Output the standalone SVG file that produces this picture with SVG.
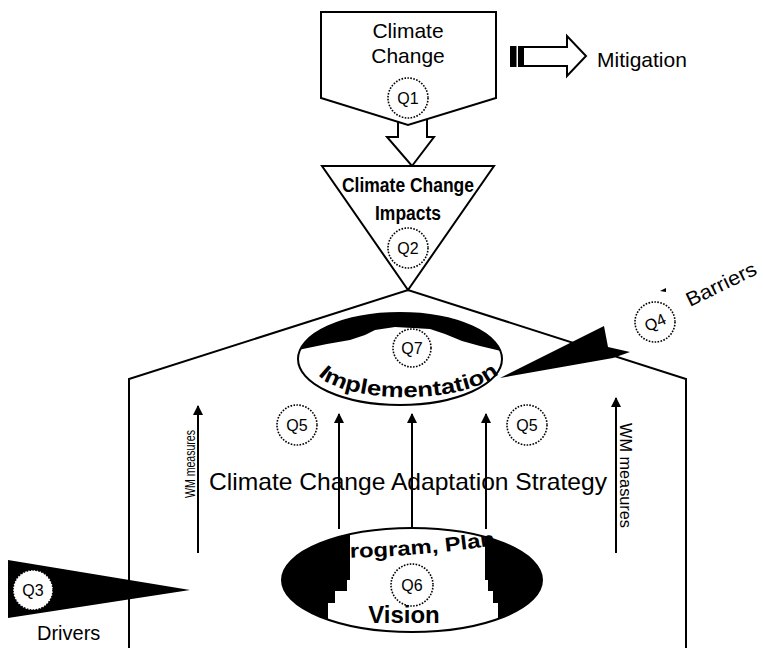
<svg xmlns="http://www.w3.org/2000/svg" width="763" height="648" viewBox="0 0 763 648">
<style>
.ln{fill:none;stroke:#000;stroke-width:2}
.sh{fill:#fff;stroke:#000;stroke-width:2;stroke-linejoin:miter}
.q{fill:#fff;stroke:#000;stroke-width:1.6;stroke-dasharray:1.6 1.4}
.t{font-family:"Liberation Sans",Arial,sans-serif;fill:#000}
.qt{font-family:"Liberation Sans",Arial,sans-serif;font-size:16px;text-anchor:middle;fill:#000}
.b{font-weight:bold}
</style>
<defs>
<marker id="ah" viewBox="0 0 10 10" refX="9" refY="5" markerWidth="10" markerHeight="10" markerUnits="userSpaceOnUse" orient="auto">
<path d="M0,0 L10,5 L0,10 Z" fill="#000"/>
</marker>
<clipPath id="impClip"><ellipse cx="400" cy="359" rx="102" ry="46"/></clipPath>
<clipPath id="visClip"><ellipse cx="412" cy="580" rx="130" ry="52"/></clipPath>
<path id="impPath" d="M318,375 C345,404 470,407 504,369"/>
<path id="progPath" d="M334,558 Q420,557 496,545"/>
</defs>

<g id="connectors">
<polyline class="ln" points="129,648 129,379 408,290 686,379 686,648"/>
<line class="ln" x1="198" y1="553" x2="198" y2="406" marker-end="url(#ah)"/>
<line class="ln" x1="616" y1="553" x2="616" y2="398" marker-end="url(#ah)"/>
<line class="ln" x1="339" y1="529" x2="339" y2="414" marker-end="url(#ah)"/>
<line class="ln" x1="412" y1="527" x2="412" y2="414" marker-end="url(#ah)"/>
<line class="ln" x1="486" y1="529" x2="486" y2="414" marker-end="url(#ah)"/>
<polygon class="sh" points="398,110 427,110 427,137 434,137 412,166 387,137 398,137"/>
</g>

<g id="climate-change">
<polygon class="sh" points="321,12 496,12 496,98 408,125 321,98"/>
<text class="t" x="408" y="38" font-size="21" text-anchor="middle">Climate</text>
<text class="t" x="408" y="63" font-size="21" text-anchor="middle">Change</text>
<circle class="q" cx="408" cy="98" r="20"/>
<text class="qt" x="408" y="104">Q1</text>
</g>

<g id="mitigation">
<polygon class="sh" points="523,47 567,47 567,36 586,56 567,76 567,66 523,66"/>
<rect x="510" y="46" width="6.5" height="21" fill="#000"/>
<rect x="518" y="46" width="5.5" height="21" fill="#000"/>
<text class="t" x="597" y="67" font-size="21">Mitigation</text>
</g>

<g id="impacts">
<polygon class="sh" points="322,166 494,166 408,290"/>
<text class="t b" x="408" y="192" font-size="20" text-anchor="middle" textLength="132" lengthAdjust="spacingAndGlyphs">Climate Change</text>
<text class="t b" x="408" y="220" font-size="20" text-anchor="middle" textLength="66" lengthAdjust="spacingAndGlyphs">Impacts</text>
<circle class="q" cx="408" cy="248" r="20"/>
<text class="qt" x="408" y="254">Q2</text>
</g>

<g id="implementation">
<ellipse cx="400" cy="359" rx="102" ry="46" fill="#fff"/>
<polygon clip-path="url(#impClip)" fill="#000" points="290,300 290,350 298,350 327,344 350,340 365,335 375,330 395,327 430,329 445,334 462,341 480,346 510,353 510,300"/>
<ellipse cx="400" cy="359" rx="102" ry="46" class="ln"/>
<circle class="q" cx="412" cy="348" r="19"/>
<text class="qt" x="412" y="354">Q7</text>
<text class="t b" font-size="21"><textPath href="#impPath" textLength="190" lengthAdjust="spacingAndGlyphs">Implementation</textPath></text>
</g>

<g id="barriers">
<polygon fill="#000" points="500,378 604,326 608,347 630,352 613,358"/>
<polygon fill="#000" points="660,291 666,288 666,292"/>
<circle class="q" cx="655" cy="322" r="20"/>
<text class="qt" x="655" y="328" transform="rotate(-25 655 322)">Q4</text>
<text class="t" x="690" y="307" font-size="20" textLength="76" lengthAdjust="spacingAndGlyphs" transform="rotate(-26 690 307)">Barriers</text>
</g>

<g id="q5-left">
<circle class="q" cx="297" cy="425" r="20"/>
<text class="qt" x="297" y="431">Q5</text>
</g>
<g id="q5-right">
<circle class="q" cx="527" cy="425" r="20"/>
<text class="qt" x="527" y="431">Q5</text>
</g>

<g id="wm-left">
<text class="t" font-size="14" transform="translate(195,498) rotate(-90)" textLength="68" lengthAdjust="spacingAndGlyphs">WM measures</text>
</g>
<g id="wm-right">
<text class="t" font-size="16" transform="translate(620,423) rotate(90)" textLength="105" lengthAdjust="spacingAndGlyphs">WM measures</text>
</g>

<g id="strategy">
<text class="t" x="209" y="490" font-size="24" textLength="398" lengthAdjust="spacingAndGlyphs">Climate Change Adaptation Strategy</text>
</g>

<g id="vision">
<ellipse cx="412" cy="580" rx="130" ry="52" fill="#fff"/>
<text class="t b" font-size="20"><textPath href="#progPath" textLength="162" lengthAdjust="spacingAndGlyphs">Program, Plan</textPath></text>
<g clip-path="url(#visClip)" fill="#000">
<polygon points="270,500 350,500 350,580 347,580 347,591 335,591 335,603 328,603 328,650 270,650"/>
<polygon points="485,500 560,500 560,650 498,650 498,603 493,603 493,591 488,591 488,580 485,580"/>
</g>
<ellipse cx="412" cy="580" rx="130" ry="52" class="ln"/>
<circle class="q" cx="412" cy="585" r="21"/>
<text class="qt" x="412" y="591">Q6</text>
<text class="t b" x="404" y="623" font-size="24" text-anchor="middle">Vision</text>
</g>

<g id="drivers">
<polygon fill="#000" points="8,560 190,590 8,618"/>
<circle class="q" cx="33" cy="590" r="20"/>
<text class="qt" x="33" y="596">Q3</text>
<text class="t" x="37" y="640" font-size="20">Drivers</text>
</g>
</svg>
